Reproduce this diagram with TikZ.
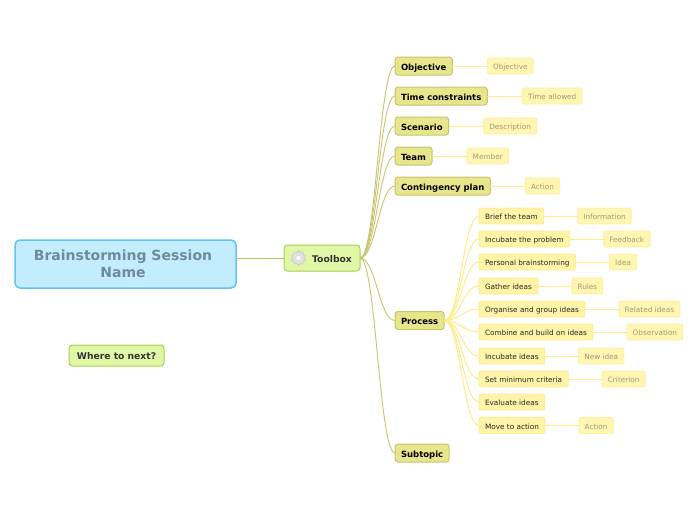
\documentclass[tikz,border=0pt]{standalone}
\usepackage{fontspec}
\setmainfont{DejaVu Sans}
\usetikzlibrary{positioning, shapes.geometric}

\definecolor{rootfill}{HTML}{C4ECFF}
\definecolor{rootline}{HTML}{5FC4F0}
\definecolor{roottext}{HTML}{6F8A9A}
\definecolor{mainfill}{HTML}{E0F7A8}
\definecolor{mainline}{HTML}{A8CF50}
\definecolor{topicfill}{HTML}{E8E68C}
\definecolor{topicline}{HTML}{C8C46E}
\definecolor{subfill}{HTML}{FFF4A8}
\definecolor{subline}{HTML}{FFEB8A}
\definecolor{leaffill}{HTML}{FFF6B4}
\definecolor{leafline}{HTML}{FFF09C}
\definecolor{leaftext}{HTML}{A09A74}

\begin{document}
\begin{tikzpicture}[
    x=1pt, y=-1pt,
    outer sep=0pt,
    % Styles for the levels of the map
    rootnode/.style={rectangle, draw=rootline, fill=rootfill, line width=1.5pt, rounded corners=5pt, minimum width=221pt, minimum height=48pt, align=center, text=roottext, font=\fontsize{14}{17}\selectfont\bfseries},
    mainnode/.style={rectangle, draw=mainline, fill=mainfill, line width=1pt, rounded corners=3.5pt, inner sep=0pt, text height=9pt, text depth=1pt, text=black!80, font=\fontsize{9.2}{10}\selectfont\bfseries},
    topicnode/.style={rectangle, draw=topicline, fill=topicfill, line width=1pt, rounded corners=3pt, inner xsep=6pt, inner ysep=0pt, minimum height=18pt, text height=9pt, text depth=1pt, anchor=west, font=\fontsize{8.5}{10}\selectfont\bfseries},
    subnode/.style={rectangle, draw=subline, fill=subfill, line width=0.8pt, rounded corners=2pt, inner xsep=6pt, inner ysep=0pt, minimum height=16pt, text height=8pt, text depth=1pt, anchor=west, text=black!85, font=\fontsize{7.3}{9}\selectfont},
    leafnode/.style={rectangle, draw=leafline, fill=leaffill, line width=0.8pt, rounded corners=2pt, inner xsep=5.7pt, inner ysep=0pt, minimum height=16pt, text height=8pt, text depth=1pt, text=leaftext, font=\fontsize{7.3}{9}\selectfont},
    gearnode/.style={star, star points=10, star point ratio=1.25, minimum size=15pt, inner sep=0pt, draw=gray!50, fill=gray!25, line width=0.4pt},
    gearhole/.style={circle, minimum size=5pt, inner sep=0pt, fill=white, draw=gray!35, line width=0.3pt},
    curve/.style={to path={.. controls +(16,0) and +(-16,0) .. (\tikztotarget)}},
    rootedge/.style={draw=mainline, line width=1pt},
    topicedge/.style={draw=topicline, line width=0.9pt},
    subedge/.style={draw=subline, line width=1pt},
    leafedge/.style={draw=subline, line width=1pt}
]
  \useasboundingbox (0,0) rectangle (696,520);

  % --- CENTRE ---
  \node[rootnode] (root) at (125.5,264) {\hspace*{-5pt}Brainstorming Session\\\hspace*{-5pt}Name};
  \node[mainnode, minimum width=76pt, minimum height=26pt] (toolbox) at (322,258) {\hspace{20pt}Toolbox};
  \node[gearnode, right=8.5pt of toolbox.west] (gear) {};
  \node[gearhole] (gearcentre) at (gear.center) {};
  \node[mainnode, minimum width=95pt, minimum height=21pt] (next) at (116.5,355.5) {Where to next?};

  % --- TOPICS ---
  \node[topicnode] (objective) at (395,66) {Objective};
  \node[topicnode] (time) at (395,96) {Time constraints};
  \node[topicnode] (scenario) at (395,126) {Scenario};
  \node[topicnode] (team) at (395,156) {Team};
  \node[topicnode] (contingency) at (395,186) {Contingency plan};
  \node[topicnode] (process) at (395,320.5) {Process};
  \node[topicnode] (subtopic) at (395,453) {Subtopic};

  % --- TOPIC DETAILS ---
  \node[leafnode, right=35pt of objective] (objectivedetail) {Objective};
  \node[leafnode, right=35pt of time] (timedetail) {Time allowed};
  \node[leafnode, right=35pt of scenario] (scenariodetail) {Description};
  \node[leafnode, right=35pt of team] (teamdetail) {Member};
  \node[leafnode, right=35pt of contingency] (contingencydetail) {Action};

  % --- PROCESS STEPS ---
  \node[subnode] (brief) at (479,216) {Brief the team};
  \node[subnode] (incubate) at (479,239) {Incubate the problem};
  \node[subnode] (personal) at (479,262) {Personal brainstorming};
  \node[subnode] (gather) at (479,286) {Gather ideas};
  \node[subnode] (organise) at (479,309) {Organise and group ideas};
  \node[subnode] (combine) at (479,332) {Combine and build on ideas};
  \node[subnode] (ideas) at (479,356) {Incubate ideas};
  \node[subnode] (criteria) at (479,379) {Set minimum criteria};
  \node[subnode] (evaluate) at (479,402) {Evaluate ideas};
  \node[subnode] (move) at (479,425.5) {Move to action};

  % --- STEP DETAILS ---
  \node[leafnode, right=34pt of brief] (briefdetail) {Information};
  \node[leafnode, right=34pt of incubate] (incubatedetail) {Feedback};
  \node[leafnode, right=34pt of personal] (personaldetail) {Idea};
  \node[leafnode, right=34pt of gather] (gatherdetail) {Rules};
  \node[leafnode, right=34pt of organise] (organisedetail) {Related ideas};
  \node[leafnode, right=34pt of combine] (combinedetail) {Observation};
  \node[leafnode, right=34pt of ideas] (ideasdetail) {New idea};
  \node[leafnode, right=34pt of criteria] (criteriadetail) {Criterion};
  \node[leafnode, right=34pt of move] (movedetail) {Action};

  % --- EDGES ---
  \draw[rootedge] (root.east |- toolbox.west) -- (toolbox.west);

  % Toolbox branches
  \draw[topicedge] (toolbox.east) to[curve] (objective.west);
  \draw[topicedge] (toolbox.east) to[curve] (time.west);
  \draw[topicedge] (toolbox.east) to[curve] (scenario.west);
  \draw[topicedge] (toolbox.east) to[curve] (team.west);
  \draw[topicedge] (toolbox.east) to[curve] (contingency.west);
  \draw[topicedge] (toolbox.east) to[curve] (process.west);
  \draw[topicedge] (toolbox.east) to[curve] (subtopic.west);

  % Topic details
  \draw[leafedge] (objective) -- (objectivedetail);
  \draw[leafedge] (time) -- (timedetail);
  \draw[leafedge] (scenario) -- (scenariodetail);
  \draw[leafedge] (team) -- (teamdetail);
  \draw[leafedge] (contingency) -- (contingencydetail);

  % Process branches
  \draw[subedge] (process.east) to[curve] (brief.west);
  \draw[subedge] (process.east) to[curve] (incubate.west);
  \draw[subedge] (process.east) to[curve] (personal.west);
  \draw[subedge] (process.east) to[curve] (gather.west);
  \draw[subedge] (process.east) to[curve] (organise.west);
  \draw[subedge] (process.east) to[curve] (combine.west);
  \draw[subedge] (process.east) to[curve] (ideas.west);
  \draw[subedge] (process.east) to[curve] (criteria.west);
  \draw[subedge] (process.east) to[curve] (evaluate.west);
  \draw[subedge] (process.east) to[curve] (move.west);

  % Step details
  \draw[leafedge] (brief) -- (briefdetail);
  \draw[leafedge] (incubate) -- (incubatedetail);
  \draw[leafedge] (personal) -- (personaldetail);
  \draw[leafedge] (gather) -- (gatherdetail);
  \draw[leafedge] (organise) -- (organisedetail);
  \draw[leafedge] (combine) -- (combinedetail);
  \draw[leafedge] (ideas) -- (ideasdetail);
  \draw[leafedge] (criteria) -- (criteriadetail);
  \draw[leafedge] (move) -- (movedetail);

\end{tikzpicture}
\end{document}
